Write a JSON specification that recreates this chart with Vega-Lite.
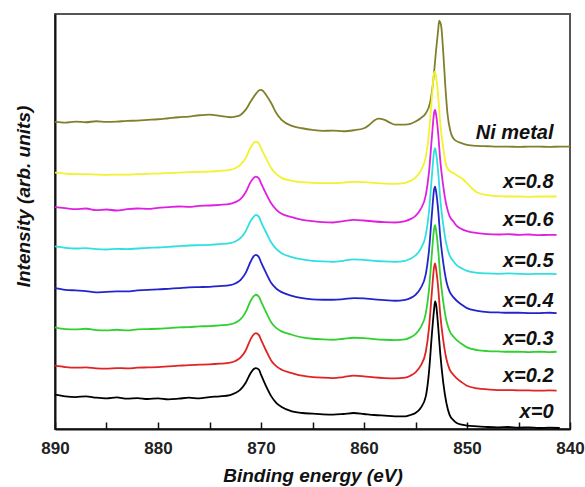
{
  "$schema": "https://vega.github.io/schema/vega-lite/v6.json",
  "width": 515,
  "height": 415,
  "autosize": "none",
  "padding": {"left": 55, "top": 14, "right": 15, "bottom": 58},
  "background": "white",
  "config": {
    "view": {"stroke": "#555", "strokeWidth": 2},
    "font": "Liberation Sans"
  },
  "datasets": {
    "spectra": [
      {"s":"Ni metal","e":890,"v":922},{"s":"Ni metal","e":889,"v":920},{"s":"Ni metal","e":888,"v":923},{"s":"Ni metal","e":887,"v":921},{"s":"Ni metal","e":886,"v":924},{"s":"Ni metal","e":885,"v":922},{"s":"Ni metal","e":884,"v":923},{"s":"Ni metal","e":883,"v":925},{"s":"Ni metal","e":882,"v":926},{"s":"Ni metal","e":881,"v":928},{"s":"Ni metal","e":880,"v":930},{"s":"Ni metal","e":879,"v":933},{"s":"Ni metal","e":878,"v":936},{"s":"Ni metal","e":877,"v":938},{"s":"Ni metal","e":876,"v":942},{"s":"Ni metal","e":875,"v":944},{"s":"Ni metal","e":874,"v":940},{"s":"Ni metal","e":873,"v":936},{"s":"Ni metal","e":872.5,"v":938},{"s":"Ni metal","e":872,"v":943},{"s":"Ni metal","e":871.5,"v":958},{"s":"Ni metal","e":871,"v":983},{"s":"Ni metal","e":870.5,"v":1006},{"s":"Ni metal","e":870.2,"v":1016},{"s":"Ni metal","e":870,"v":1018},{"s":"Ni metal","e":869.8,"v":1015},{"s":"Ni metal","e":869.5,"v":1003},{"s":"Ni metal","e":869,"v":978},{"s":"Ni metal","e":868.5,"v":948},{"s":"Ni metal","e":868,"v":928},{"s":"Ni metal","e":867,"v":910},{"s":"Ni metal","e":866,"v":903},{"s":"Ni metal","e":865,"v":898},{"s":"Ni metal","e":864,"v":895},{"s":"Ni metal","e":863,"v":896},{"s":"Ni metal","e":862,"v":894},{"s":"Ni metal","e":861,"v":897},{"s":"Ni metal","e":860,"v":903},{"s":"Ni metal","e":859.5,"v":913},{"s":"Ni metal","e":859,"v":926},{"s":"Ni metal","e":858.6,"v":932},{"s":"Ni metal","e":858,"v":928},{"s":"Ni metal","e":857.5,"v":920},{"s":"Ni metal","e":857,"v":914},{"s":"Ni metal","e":856,"v":914},{"s":"Ni metal","e":855.5,"v":916},{"s":"Ni metal","e":855,"v":923},{"s":"Ni metal","e":854.5,"v":933},{"s":"Ni metal","e":854,"v":948},{"s":"Ni metal","e":853.6,"v":978},{"s":"Ni metal","e":853.3,"v":1038},{"s":"Ni metal","e":853,"v":1138},{"s":"Ni metal","e":852.8,"v":1198},{"s":"Ni metal","e":852.7,"v":1226},{"s":"Ni metal","e":852.5,"v":1208},{"s":"Ni metal","e":852.3,"v":1128},{"s":"Ni metal","e":852.1,"v":1028},{"s":"Ni metal","e":851.9,"v":948},{"s":"Ni metal","e":851.6,"v":893},{"s":"Ni metal","e":851.2,"v":868},{"s":"Ni metal","e":850.5,"v":858},{"s":"Ni metal","e":850,"v":853},{"s":"Ni metal","e":849,"v":850},{"s":"Ni metal","e":848,"v":849},{"s":"Ni metal","e":847,"v":848},{"s":"Ni metal","e":846,"v":848},{"s":"Ni metal","e":845,"v":847},{"s":"Ni metal","e":844,"v":848},{"s":"Ni metal","e":843,"v":848},{"s":"Ni metal","e":842,"v":847},{"s":"Ni metal","e":841,"v":848},{"s":"Ni metal","e":840,"v":848},

      {"s":"x=0.8","e":890,"v":770},{"s":"x=0.8","e":889,"v":767},{"s":"x=0.8","e":888,"v":765},{"s":"x=0.8","e":887,"v":765},{"s":"x=0.8","e":886,"v":764},{"s":"x=0.8","e":885,"v":763},{"s":"x=0.8","e":884,"v":764},{"s":"x=0.8","e":883,"v":764},{"s":"x=0.8","e":882,"v":765},{"s":"x=0.8","e":881,"v":766},{"s":"x=0.8","e":880,"v":767},{"s":"x=0.8","e":879,"v":768},{"s":"x=0.8","e":878,"v":770},{"s":"x=0.8","e":877,"v":771},{"s":"x=0.8","e":876,"v":772},{"s":"x=0.8","e":875,"v":773},{"s":"x=0.8","e":874,"v":775},{"s":"x=0.8","e":873,"v":778},{"s":"x=0.8","e":872.5,"v":783},{"s":"x=0.8","e":872,"v":793},{"s":"x=0.8","e":871.5,"v":813},{"s":"x=0.8","e":871,"v":846},{"s":"x=0.8","e":870.7,"v":859},{"s":"x=0.8","e":870.5,"v":863},{"s":"x=0.8","e":870.2,"v":857},{"s":"x=0.8","e":870,"v":843},{"s":"x=0.8","e":869.5,"v":812},{"s":"x=0.8","e":869,"v":783},{"s":"x=0.8","e":868.5,"v":765},{"s":"x=0.8","e":868,"v":754},{"s":"x=0.8","e":867,"v":745},{"s":"x=0.8","e":866,"v":741},{"s":"x=0.8","e":865,"v":739},{"s":"x=0.8","e":864,"v":738},{"s":"x=0.8","e":863,"v":738},{"s":"x=0.8","e":862,"v":740},{"s":"x=0.8","e":861,"v":742},{"s":"x=0.8","e":860,"v":741},{"s":"x=0.8","e":859,"v":739},{"s":"x=0.8","e":858,"v":737},{"s":"x=0.8","e":857,"v":736},{"s":"x=0.8","e":856,"v":739},{"s":"x=0.8","e":855.5,"v":745},{"s":"x=0.8","e":855,"v":755},{"s":"x=0.8","e":854.5,"v":775},{"s":"x=0.8","e":854,"v":817},{"s":"x=0.8","e":853.7,"v":885},{"s":"x=0.8","e":853.4,"v":1000},{"s":"x=0.8","e":853.2,"v":1068},{"s":"x=0.8","e":853.1,"v":1073},{"s":"x=0.8","e":853,"v":1058},{"s":"x=0.8","e":852.8,"v":1000},{"s":"x=0.8","e":852.6,"v":920},{"s":"x=0.8","e":852.3,"v":842},{"s":"x=0.8","e":852,"v":790},{"s":"x=0.8","e":851.7,"v":775},{"s":"x=0.8","e":851.3,"v":768},{"s":"x=0.8","e":851,"v":762},{"s":"x=0.8","e":850.5,"v":752},{"s":"x=0.8","e":850,"v":738},{"s":"x=0.8","e":849.5,"v":722},{"s":"x=0.8","e":849,"v":710},{"s":"x=0.8","e":848,"v":702},{"s":"x=0.8","e":847,"v":699},{"s":"x=0.8","e":846,"v":698},{"s":"x=0.8","e":845,"v":698},{"s":"x=0.8","e":844,"v":697},{"s":"x=0.8","e":843,"v":698},{"s":"x=0.8","e":842,"v":698},{"s":"x=0.8","e":841.3,"v":698},

      {"s":"x=0.6","e":890,"v":666},{"s":"x=0.6","e":889,"v":663},{"s":"x=0.6","e":888,"v":660},{"s":"x=0.6","e":887,"v":662},{"s":"x=0.6","e":886,"v":657},{"s":"x=0.6","e":885,"v":659},{"s":"x=0.6","e":884,"v":656},{"s":"x=0.6","e":883,"v":660},{"s":"x=0.6","e":882,"v":662},{"s":"x=0.6","e":881,"v":661},{"s":"x=0.6","e":880,"v":664},{"s":"x=0.6","e":879,"v":666},{"s":"x=0.6","e":878,"v":668},{"s":"x=0.6","e":877,"v":667},{"s":"x=0.6","e":876,"v":670},{"s":"x=0.6","e":875,"v":671},{"s":"x=0.6","e":874,"v":673},{"s":"x=0.6","e":873,"v":676},{"s":"x=0.6","e":872.5,"v":681},{"s":"x=0.6","e":872,"v":690},{"s":"x=0.6","e":871.5,"v":710},{"s":"x=0.6","e":871,"v":742},{"s":"x=0.6","e":870.7,"v":754},{"s":"x=0.6","e":870.5,"v":758},{"s":"x=0.6","e":870.2,"v":752},{"s":"x=0.6","e":870,"v":738},{"s":"x=0.6","e":869.5,"v":706},{"s":"x=0.6","e":869,"v":677},{"s":"x=0.6","e":868.5,"v":658},{"s":"x=0.6","e":868,"v":646},{"s":"x=0.6","e":867,"v":636},{"s":"x=0.6","e":866,"v":628},{"s":"x=0.6","e":865,"v":624},{"s":"x=0.6","e":864,"v":621},{"s":"x=0.6","e":863,"v":620},{"s":"x=0.6","e":862,"v":624},{"s":"x=0.6","e":861,"v":628},{"s":"x=0.6","e":860,"v":626},{"s":"x=0.6","e":859,"v":623},{"s":"x=0.6","e":858,"v":621},{"s":"x=0.6","e":857,"v":620},{"s":"x=0.6","e":856,"v":624},{"s":"x=0.6","e":855.5,"v":630},{"s":"x=0.6","e":855,"v":640},{"s":"x=0.6","e":854.5,"v":660},{"s":"x=0.6","e":854,"v":702},{"s":"x=0.6","e":853.7,"v":768},{"s":"x=0.6","e":853.4,"v":880},{"s":"x=0.6","e":853.2,"v":948},{"s":"x=0.6","e":853.1,"v":958},{"s":"x=0.6","e":853,"v":944},{"s":"x=0.6","e":852.8,"v":888},{"s":"x=0.6","e":852.6,"v":808},{"s":"x=0.6","e":852.3,"v":728},{"s":"x=0.6","e":852,"v":672},{"s":"x=0.6","e":851.7,"v":640},{"s":"x=0.6","e":851.3,"v":622},{"s":"x=0.6","e":851,"v":610},{"s":"x=0.6","e":850.5,"v":600},{"s":"x=0.6","e":850,"v":594},{"s":"x=0.6","e":849,"v":588},{"s":"x=0.6","e":848,"v":585},{"s":"x=0.6","e":847,"v":584},{"s":"x=0.6","e":846,"v":585},{"s":"x=0.6","e":845,"v":583},{"s":"x=0.6","e":844,"v":584},{"s":"x=0.6","e":843,"v":582},{"s":"x=0.6","e":842,"v":583},{"s":"x=0.6","e":841.3,"v":583},

      {"s":"x=0.5","e":890,"v":548},{"s":"x=0.5","e":889,"v":544},{"s":"x=0.5","e":888,"v":542},{"s":"x=0.5","e":887,"v":543},{"s":"x=0.5","e":886,"v":540},{"s":"x=0.5","e":885,"v":539},{"s":"x=0.5","e":884,"v":541},{"s":"x=0.5","e":883,"v":540},{"s":"x=0.5","e":882,"v":542},{"s":"x=0.5","e":881,"v":544},{"s":"x=0.5","e":880,"v":545},{"s":"x=0.5","e":879,"v":547},{"s":"x=0.5","e":878,"v":549},{"s":"x=0.5","e":877,"v":551},{"s":"x=0.5","e":876,"v":552},{"s":"x=0.5","e":875,"v":553},{"s":"x=0.5","e":874,"v":555},{"s":"x=0.5","e":873,"v":558},{"s":"x=0.5","e":872.5,"v":563},{"s":"x=0.5","e":872,"v":573},{"s":"x=0.5","e":871.5,"v":593},{"s":"x=0.5","e":871,"v":625},{"s":"x=0.5","e":870.7,"v":638},{"s":"x=0.5","e":870.5,"v":643},{"s":"x=0.5","e":870.2,"v":637},{"s":"x=0.5","e":870,"v":622},{"s":"x=0.5","e":869.5,"v":590},{"s":"x=0.5","e":869,"v":560},{"s":"x=0.5","e":868.5,"v":540},{"s":"x=0.5","e":868,"v":528},{"s":"x=0.5","e":867,"v":516},{"s":"x=0.5","e":866,"v":509},{"s":"x=0.5","e":865,"v":505},{"s":"x=0.5","e":864,"v":503},{"s":"x=0.5","e":863,"v":502},{"s":"x=0.5","e":862,"v":505},{"s":"x=0.5","e":861,"v":509},{"s":"x=0.5","e":860,"v":508},{"s":"x=0.5","e":859,"v":505},{"s":"x=0.5","e":858,"v":503},{"s":"x=0.5","e":857,"v":502},{"s":"x=0.5","e":856,"v":505},{"s":"x=0.5","e":855.5,"v":511},{"s":"x=0.5","e":855,"v":521},{"s":"x=0.5","e":854.5,"v":541},{"s":"x=0.5","e":854,"v":583},{"s":"x=0.5","e":853.7,"v":650},{"s":"x=0.5","e":853.4,"v":763},{"s":"x=0.5","e":853.2,"v":832},{"s":"x=0.5","e":853.1,"v":843},{"s":"x=0.5","e":853,"v":828},{"s":"x=0.5","e":852.8,"v":772},{"s":"x=0.5","e":852.6,"v":692},{"s":"x=0.5","e":852.3,"v":612},{"s":"x=0.5","e":852,"v":555},{"s":"x=0.5","e":851.7,"v":522},{"s":"x=0.5","e":851.3,"v":503},{"s":"x=0.5","e":851,"v":492},{"s":"x=0.5","e":850.5,"v":482},{"s":"x=0.5","e":850,"v":475},{"s":"x=0.5","e":849,"v":469},{"s":"x=0.5","e":848,"v":467},{"s":"x=0.5","e":847,"v":466},{"s":"x=0.5","e":846,"v":467},{"s":"x=0.5","e":845,"v":466},{"s":"x=0.5","e":844,"v":465},{"s":"x=0.5","e":843,"v":466},{"s":"x=0.5","e":842,"v":466},{"s":"x=0.5","e":841.3,"v":465},

      {"s":"x=0.4","e":890,"v":423},{"s":"x=0.4","e":889,"v":418},{"s":"x=0.4","e":888,"v":416},{"s":"x=0.4","e":887,"v":414},{"s":"x=0.4","e":886,"v":410},{"s":"x=0.4","e":885,"v":412},{"s":"x=0.4","e":884,"v":413},{"s":"x=0.4","e":883,"v":413},{"s":"x=0.4","e":882,"v":416},{"s":"x=0.4","e":881,"v":418},{"s":"x=0.4","e":880,"v":419},{"s":"x=0.4","e":879,"v":421},{"s":"x=0.4","e":878,"v":423},{"s":"x=0.4","e":877,"v":425},{"s":"x=0.4","e":876,"v":426},{"s":"x=0.4","e":875,"v":427},{"s":"x=0.4","e":874,"v":429},{"s":"x=0.4","e":873,"v":432},{"s":"x=0.4","e":872.5,"v":437},{"s":"x=0.4","e":872,"v":447},{"s":"x=0.4","e":871.5,"v":468},{"s":"x=0.4","e":871,"v":503},{"s":"x=0.4","e":870.7,"v":519},{"s":"x=0.4","e":870.5,"v":523},{"s":"x=0.4","e":870.2,"v":516},{"s":"x=0.4","e":870,"v":501},{"s":"x=0.4","e":869.5,"v":468},{"s":"x=0.4","e":869,"v":438},{"s":"x=0.4","e":868.5,"v":421},{"s":"x=0.4","e":868,"v":411},{"s":"x=0.4","e":867,"v":400},{"s":"x=0.4","e":866,"v":393},{"s":"x=0.4","e":865,"v":389},{"s":"x=0.4","e":864,"v":388},{"s":"x=0.4","e":863,"v":388},{"s":"x=0.4","e":862,"v":390},{"s":"x=0.4","e":861,"v":393},{"s":"x=0.4","e":860,"v":392},{"s":"x=0.4","e":859,"v":389},{"s":"x=0.4","e":858,"v":387},{"s":"x=0.4","e":857,"v":385},{"s":"x=0.4","e":856,"v":388},{"s":"x=0.4","e":855.5,"v":393},{"s":"x=0.4","e":855,"v":403},{"s":"x=0.4","e":854.5,"v":423},{"s":"x=0.4","e":854,"v":465},{"s":"x=0.4","e":853.7,"v":533},{"s":"x=0.4","e":853.4,"v":648},{"s":"x=0.4","e":853.2,"v":718},{"s":"x=0.4","e":853.1,"v":728},{"s":"x=0.4","e":853,"v":713},{"s":"x=0.4","e":852.8,"v":658},{"s":"x=0.4","e":852.6,"v":578},{"s":"x=0.4","e":852.3,"v":498},{"s":"x=0.4","e":852,"v":443},{"s":"x=0.4","e":851.7,"v":413},{"s":"x=0.4","e":851.3,"v":395},{"s":"x=0.4","e":851,"v":385},{"s":"x=0.4","e":850.5,"v":373},{"s":"x=0.4","e":850,"v":363},{"s":"x=0.4","e":849,"v":355},{"s":"x=0.4","e":848,"v":351},{"s":"x=0.4","e":847,"v":350},{"s":"x=0.4","e":846,"v":349},{"s":"x=0.4","e":845,"v":349},{"s":"x=0.4","e":844,"v":348},{"s":"x=0.4","e":843,"v":348},{"s":"x=0.4","e":842,"v":349},{"s":"x=0.4","e":841.3,"v":348},

      {"s":"x=0.3","e":890,"v":305},{"s":"x=0.3","e":889,"v":300},{"s":"x=0.3","e":888,"v":299},{"s":"x=0.3","e":887,"v":301},{"s":"x=0.3","e":886,"v":297},{"s":"x=0.3","e":885,"v":296},{"s":"x=0.3","e":884,"v":298},{"s":"x=0.3","e":883,"v":296},{"s":"x=0.3","e":882,"v":299},{"s":"x=0.3","e":881,"v":300},{"s":"x=0.3","e":880,"v":301},{"s":"x=0.3","e":879,"v":303},{"s":"x=0.3","e":878,"v":305},{"s":"x=0.3","e":877,"v":306},{"s":"x=0.3","e":876,"v":308},{"s":"x=0.3","e":875,"v":309},{"s":"x=0.3","e":874,"v":311},{"s":"x=0.3","e":873,"v":314},{"s":"x=0.3","e":872.5,"v":319},{"s":"x=0.3","e":872,"v":329},{"s":"x=0.3","e":871.5,"v":350},{"s":"x=0.3","e":871,"v":385},{"s":"x=0.3","e":870.7,"v":399},{"s":"x=0.3","e":870.5,"v":403},{"s":"x=0.3","e":870.2,"v":397},{"s":"x=0.3","e":870,"v":383},{"s":"x=0.3","e":869.5,"v":350},{"s":"x=0.3","e":869,"v":320},{"s":"x=0.3","e":868.5,"v":303},{"s":"x=0.3","e":868,"v":293},{"s":"x=0.3","e":867,"v":283},{"s":"x=0.3","e":866,"v":275},{"s":"x=0.3","e":865,"v":271},{"s":"x=0.3","e":864,"v":269},{"s":"x=0.3","e":863,"v":268},{"s":"x=0.3","e":862,"v":271},{"s":"x=0.3","e":861,"v":274},{"s":"x=0.3","e":860,"v":273},{"s":"x=0.3","e":859,"v":270},{"s":"x=0.3","e":858,"v":268},{"s":"x=0.3","e":857,"v":267},{"s":"x=0.3","e":856,"v":269},{"s":"x=0.3","e":855.5,"v":275},{"s":"x=0.3","e":855,"v":285},{"s":"x=0.3","e":854.5,"v":305},{"s":"x=0.3","e":854,"v":347},{"s":"x=0.3","e":853.7,"v":415},{"s":"x=0.3","e":853.4,"v":530},{"s":"x=0.3","e":853.2,"v":600},{"s":"x=0.3","e":853.1,"v":612},{"s":"x=0.3","e":853,"v":596},{"s":"x=0.3","e":852.8,"v":540},{"s":"x=0.3","e":852.6,"v":460},{"s":"x=0.3","e":852.3,"v":380},{"s":"x=0.3","e":852,"v":325},{"s":"x=0.3","e":851.7,"v":295},{"s":"x=0.3","e":851.3,"v":277},{"s":"x=0.3","e":851,"v":267},{"s":"x=0.3","e":850.5,"v":255},{"s":"x=0.3","e":850,"v":245},{"s":"x=0.3","e":849,"v":237},{"s":"x=0.3","e":848,"v":234},{"s":"x=0.3","e":847,"v":233},{"s":"x=0.3","e":846,"v":232},{"s":"x=0.3","e":845,"v":232},{"s":"x=0.3","e":844,"v":231},{"s":"x=0.3","e":843,"v":232},{"s":"x=0.3","e":842,"v":231},{"s":"x=0.3","e":841.3,"v":232},

      {"s":"x=0.2","e":890,"v":190},{"s":"x=0.2","e":889,"v":186},{"s":"x=0.2","e":888,"v":184},{"s":"x=0.2","e":887,"v":185},{"s":"x=0.2","e":886,"v":182},{"s":"x=0.2","e":885,"v":181},{"s":"x=0.2","e":884,"v":183},{"s":"x=0.2","e":883,"v":182},{"s":"x=0.2","e":882,"v":184},{"s":"x=0.2","e":881,"v":185},{"s":"x=0.2","e":880,"v":186},{"s":"x=0.2","e":879,"v":188},{"s":"x=0.2","e":878,"v":190},{"s":"x=0.2","e":877,"v":192},{"s":"x=0.2","e":876,"v":193},{"s":"x=0.2","e":875,"v":194},{"s":"x=0.2","e":874,"v":196},{"s":"x=0.2","e":873,"v":199},{"s":"x=0.2","e":872.5,"v":204},{"s":"x=0.2","e":872,"v":214},{"s":"x=0.2","e":871.5,"v":235},{"s":"x=0.2","e":871,"v":270},{"s":"x=0.2","e":870.7,"v":284},{"s":"x=0.2","e":870.5,"v":288},{"s":"x=0.2","e":870.2,"v":282},{"s":"x=0.2","e":870,"v":268},{"s":"x=0.2","e":869.5,"v":235},{"s":"x=0.2","e":869,"v":205},{"s":"x=0.2","e":868.5,"v":188},{"s":"x=0.2","e":868,"v":178},{"s":"x=0.2","e":867,"v":168},{"s":"x=0.2","e":866,"v":160},{"s":"x=0.2","e":865,"v":156},{"s":"x=0.2","e":864,"v":154},{"s":"x=0.2","e":863,"v":153},{"s":"x=0.2","e":862,"v":156},{"s":"x=0.2","e":861,"v":160},{"s":"x=0.2","e":860,"v":158},{"s":"x=0.2","e":859,"v":155},{"s":"x=0.2","e":858,"v":153},{"s":"x=0.2","e":857,"v":152},{"s":"x=0.2","e":856,"v":154},{"s":"x=0.2","e":855.5,"v":160},{"s":"x=0.2","e":855,"v":170},{"s":"x=0.2","e":854.5,"v":190},{"s":"x=0.2","e":854,"v":232},{"s":"x=0.2","e":853.7,"v":300},{"s":"x=0.2","e":853.4,"v":415},{"s":"x=0.2","e":853.2,"v":485},{"s":"x=0.2","e":853.1,"v":497},{"s":"x=0.2","e":853,"v":480},{"s":"x=0.2","e":852.8,"v":425},{"s":"x=0.2","e":852.6,"v":345},{"s":"x=0.2","e":852.3,"v":265},{"s":"x=0.2","e":852,"v":210},{"s":"x=0.2","e":851.7,"v":180},{"s":"x=0.2","e":851.3,"v":162},{"s":"x=0.2","e":851,"v":152},{"s":"x=0.2","e":850.5,"v":140},{"s":"x=0.2","e":850,"v":130},{"s":"x=0.2","e":849,"v":122},{"s":"x=0.2","e":848,"v":119},{"s":"x=0.2","e":847,"v":117},{"s":"x=0.2","e":846,"v":117},{"s":"x=0.2","e":845,"v":116},{"s":"x=0.2","e":844,"v":116},{"s":"x=0.2","e":843,"v":115},{"s":"x=0.2","e":842,"v":116},{"s":"x=0.2","e":841.3,"v":115},

      {"s":"x=0","e":890,"v":103},{"s":"x=0","e":889,"v":98},{"s":"x=0","e":888,"v":96},{"s":"x=0","e":887,"v":98},{"s":"x=0","e":886,"v":94},{"s":"x=0","e":885,"v":92},{"s":"x=0","e":884,"v":95},{"s":"x=0","e":883,"v":91},{"s":"x=0","e":882,"v":93},{"s":"x=0","e":881,"v":90},{"s":"x=0","e":880,"v":92},{"s":"x=0","e":879,"v":89},{"s":"x=0","e":878,"v":91},{"s":"x=0","e":877,"v":94},{"s":"x=0","e":876,"v":92},{"s":"x=0","e":875,"v":96},{"s":"x=0","e":874,"v":98},{"s":"x=0","e":873,"v":102},{"s":"x=0","e":872.5,"v":108},{"s":"x=0","e":872,"v":118},{"s":"x=0","e":871.5,"v":138},{"s":"x=0","e":871,"v":168},{"s":"x=0","e":870.7,"v":180},{"s":"x=0","e":870.5,"v":183},{"s":"x=0","e":870.2,"v":178},{"s":"x=0","e":870,"v":163},{"s":"x=0","e":869.5,"v":128},{"s":"x=0","e":869,"v":98},{"s":"x=0","e":868.5,"v":78},{"s":"x=0","e":868,"v":66},{"s":"x=0","e":867,"v":53},{"s":"x=0","e":866,"v":48},{"s":"x=0","e":865,"v":46},{"s":"x=0","e":864,"v":44},{"s":"x=0","e":863,"v":43},{"s":"x=0","e":862,"v":45},{"s":"x=0","e":861,"v":48},{"s":"x=0","e":860,"v":45},{"s":"x=0","e":859,"v":42},{"s":"x=0","e":858,"v":40},{"s":"x=0","e":857,"v":38},{"s":"x=0","e":856,"v":38},{"s":"x=0","e":855.5,"v":42},{"s":"x=0","e":855,"v":48},{"s":"x=0","e":854.5,"v":63},{"s":"x=0","e":854,"v":98},{"s":"x=0","e":853.7,"v":168},{"s":"x=0","e":853.4,"v":288},{"s":"x=0","e":853.2,"v":358},{"s":"x=0","e":853.1,"v":383},{"s":"x=0","e":853,"v":373},{"s":"x=0","e":852.8,"v":308},{"s":"x=0","e":852.6,"v":228},{"s":"x=0","e":852.3,"v":138},{"s":"x=0","e":852,"v":78},{"s":"x=0","e":851.7,"v":43},{"s":"x=0","e":851.3,"v":26},{"s":"x=0","e":851,"v":18},{"s":"x=0","e":850.5,"v":13},{"s":"x=0","e":850,"v":10},{"s":"x=0","e":849,"v":8},{"s":"x=0","e":848,"v":6},{"s":"x=0","e":847,"v":5},{"s":"x=0","e":846,"v":6},{"s":"x=0","e":845,"v":4},{"s":"x=0","e":844,"v":5},{"s":"x=0","e":843,"v":3},{"s":"x=0","e":842,"v":4},{"s":"x=0","e":841,"v":3}
    ],
    "labels": [
      {"s":"Ni metal","e":841.6,"v":888},
      {"s":"x=0.8","e":841.6,"v":743},
      {"s":"x=0.6","e":841.6,"v":628},
      {"s":"x=0.5","e":841.6,"v":505},
      {"s":"x=0.4","e":841.6,"v":385},
      {"s":"x=0.3","e":841.6,"v":270},
      {"s":"x=0.2","e":841.6,"v":158},
      {"s":"x=0","e":841.6,"v":51}
    ]
  },
  "layer": [
    {
      "data": {"name": "spectra"},
      "mark": {"type": "line", "strokeWidth": 1.8, "interpolate": "monotone"},
      "encoding": {
        "x": {
          "field": "e",
          "type": "quantitative",
          "scale": {"domain": [840, 890], "reverse": true, "nice": false, "zero": false},
          "axis": {
            "title": "Binding energy (eV)",
            "titleFont": "Liberation Sans",
            "titleFontSize": 19,
            "titleFontWeight": "bold",
            "titleFontStyle": "italic",
            "titleColor": "#111",
            "titlePadding": 10,
            "values": [890, 885, 880, 875, 870, 865, 860, 855, 850, 845, 840],
            "labelExpr": "datum.value % 10 === 0 ? datum.value : ''",
            "labelFont": "Liberation Sans",
            "labelFontSize": 17,
            "labelFontWeight": "bold",
            "labelColor": "#222",
            "labelPadding": 18,
            "labelFlush": false,
            "labelOverlap": false,
            "tickSize": -7,
            "tickColor": "#111",
            "tickWidth": 1.5,
            "domainColor": "#111",
            "domainWidth": 2,
            "grid": false,
            "encode": {
              "ticks": {
                "update": {
                  "y2": {"signal": "datum.value % 10 === 0 ? -7 : -4"}
                }
              }
            }
          }
        },
        "y": {
          "field": "v",
          "type": "quantitative",
          "scale": {"domain": [0, 1246], "nice": false, "zero": false},
          "axis": {
            "title": "Intensity (arb. units)",
            "titleFont": "Liberation Sans",
            "titleFontSize": 19,
            "titleFontWeight": "bold",
            "titleFontStyle": "italic",
            "titleColor": "#111",
            "titlePadding": 22,
            "titleY": 182,
            "labels": false,
            "ticks": false,
            "domainColor": "#111",
            "domainWidth": 2,
            "grid": false
          }
        },
        "color": {
          "field": "s",
          "type": "nominal",
          "scale": {
            "domain": ["Ni metal", "x=0.8", "x=0.6", "x=0.5", "x=0.4", "x=0.3", "x=0.2", "x=0"],
            "range": ["#80802c", "#f2f230", "#e020e0", "#30e0e0", "#2424cc", "#30d030", "#e02424", "#000000"]
          },
          "legend": null
        }
      }
    },
    {
      "data": {"name": "labels"},
      "mark": {
        "type": "text",
        "align": "right",
        "baseline": "middle",
        "font": "Liberation Sans",
        "fontSize": 20,
        "fontWeight": "bold",
        "fontStyle": "italic",
        "color": "#111"
      },
      "encoding": {
        "x": {"field": "e", "type": "quantitative"},
        "y": {"field": "v", "type": "quantitative"},
        "text": {"field": "s"}
      }
    }
  ]
}
